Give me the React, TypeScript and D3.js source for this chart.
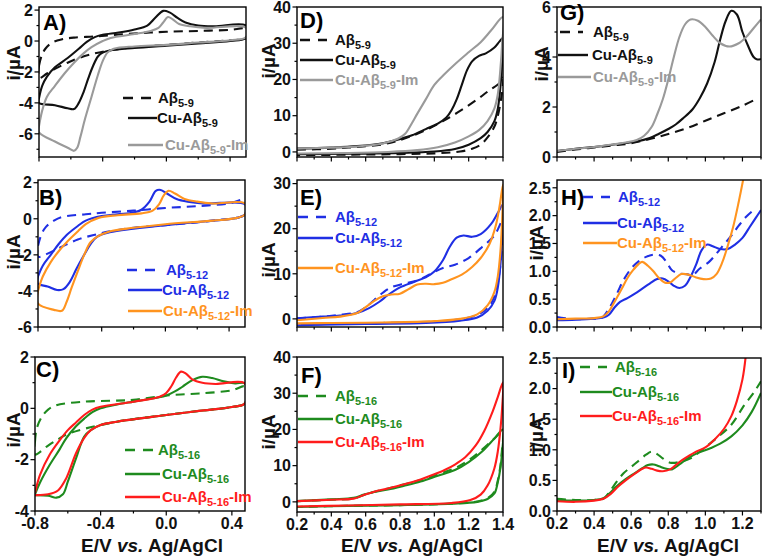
import React from "react";
import * as d3 from "d3";

type Pt = [number, number];

// ---------- Panel A : CVs, A-beta 5-9 ----------
const A_ab59: Pt[] = [[-0.8,-1.6],[-0.785,-1.0],[-0.76,-0.5],[-0.72,-0.12],[-0.66,0.1],[-0.58,0.22],[-0.45,0.3],[-0.3,0.42],[-0.15,0.52],[0.0,0.6],[0.2,0.65],[0.4,0.72],[0.5,0.78],[0.5,0.2],[0.4,0.05],[0.2,-0.1],[0.0,-0.25],[-0.2,-0.4],[-0.35,-0.6],[-0.45,-0.8],[-0.55,-1.1],[-0.62,-1.4],[-0.7,-1.8],[-0.75,-2.1],[-0.8,-2.4],[-0.8,-1.6]];
const A_cu59: Pt[] = [[-0.8,-3.7],[-0.78,-2.9],[-0.75,-2.3],[-0.7,-1.7],[-0.62,-1.1],[-0.55,-0.5],[-0.5,-0.05],[-0.45,0.25],[-0.4,0.4],[-0.3,0.55],[-0.2,0.75],[-0.12,1.0],[-0.07,1.5],[-0.02,1.95],[0.02,1.85],[0.07,1.5],[0.12,1.2],[0.2,1.0],[0.3,0.95],[0.5,1.0],[0.5,0.2],[0.4,0.0],[0.2,-0.15],[0.0,-0.3],[-0.2,-0.45],[-0.35,-0.6],[-0.4,-0.75],[-0.43,-1.0],[-0.46,-1.6],[-0.49,-2.4],[-0.52,-3.3],[-0.55,-4.0],[-0.58,-4.4],[-0.62,-4.35],[-0.7,-4.15],[-0.8,-4.0],[-0.8,-3.7]];
const A_im59: Pt[] = [[-0.8,-5.5],[-0.78,-4.5],[-0.75,-3.6],[-0.7,-2.9],[-0.64,-2.1],[-0.58,-1.4],[-0.52,-0.8],[-0.47,-0.4],[-0.4,0.0],[-0.35,0.2],[-0.2,0.45],[-0.1,0.65],[-0.05,0.85],[-0.02,1.2],[0.01,1.55],[0.04,1.4],[0.08,1.1],[0.15,0.95],[0.25,0.85],[0.5,0.85],[0.5,0.25],[0.4,0.05],[0.2,-0.1],[0.0,-0.25],[-0.2,-0.35],[-0.33,-0.5],[-0.37,-0.75],[-0.4,-1.3],[-0.43,-2.2],[-0.47,-3.6],[-0.51,-5.0],[-0.54,-6.2],[-0.56,-6.9],[-0.58,-7.1],[-0.62,-6.9],[-0.7,-6.5],[-0.8,-5.9],[-0.8,-5.5]];

// ---------- Panel B : CVs, A-beta 5-12 ----------
const B_ab512: Pt[] = [[-0.8,-1.5],[-0.78,-0.9],[-0.75,-0.45],[-0.7,-0.1],[-0.65,0.1],[-0.5,0.25],[-0.4,0.33],[-0.2,0.45],[0.0,0.6],[0.2,0.7],[0.4,0.85],[0.5,1.05],[0.5,0.25],[0.45,0.05],[0.3,-0.1],[0.2,-0.2],[0.0,-0.35],[-0.2,-0.5],[-0.35,-0.7],[-0.45,-0.9],[-0.55,-1.15],[-0.65,-1.55],[-0.72,-1.85],[-0.8,-2.1],[-0.8,-1.5]];
const B_cu512: Pt[] = [[-0.8,-3.2],[-0.77,-2.6],[-0.72,-2.0],[-0.67,-1.4],[-0.62,-0.9],[-0.55,-0.4],[-0.5,-0.1],[-0.4,0.15],[-0.3,0.25],[-0.2,0.35],[-0.15,0.5],[-0.1,0.95],[-0.06,1.55],[-0.03,1.6],[0.01,1.4],[0.07,1.1],[0.14,0.95],[0.25,0.85],[0.5,0.8],[0.5,0.25],[0.45,0.05],[0.3,-0.1],[0.0,-0.35],[-0.2,-0.55],[-0.35,-0.75],[-0.43,-1.0],[-0.47,-1.4],[-0.51,-2.0],[-0.56,-2.8],[-0.6,-3.5],[-0.64,-3.9],[-0.68,-3.95],[-0.74,-3.75],[-0.8,-3.6],[-0.8,-3.2]];
const B_im512: Pt[] = [[-0.8,-4.0],[-0.77,-3.2],[-0.72,-2.4],[-0.67,-1.8],[-0.62,-1.3],[-0.55,-0.7],[-0.5,-0.3],[-0.42,0.05],[-0.3,0.2],[-0.15,0.3],[-0.08,0.45],[-0.04,0.8],[-0.01,1.3],[0.02,1.55],[0.06,1.4],[0.12,1.1],[0.2,0.95],[0.3,0.85],[0.5,0.85],[0.5,0.25],[0.45,0.05],[0.3,-0.1],[0.0,-0.3],[-0.2,-0.5],[-0.35,-0.7],[-0.42,-0.95],[-0.47,-1.3],[-0.51,-2.0],[-0.55,-2.9],[-0.59,-3.85],[-0.62,-4.6],[-0.65,-5.1],[-0.7,-5.05],[-0.8,-4.7],[-0.8,-4.0]];

// ---------- Panel C : CVs, A-beta 5-16 ----------
const C_ab516: Pt[] = [[-0.8,-1.3],[-0.79,-0.8],[-0.76,-0.35],[-0.72,-0.05],[-0.67,0.12],[-0.5,0.26],[-0.3,0.3],[-0.2,0.33],[0.0,0.5],[0.2,0.58],[0.4,0.7],[0.48,0.85],[0.48,0.2],[0.4,0.05],[0.2,-0.1],[0.0,-0.26],[-0.3,-0.52],[-0.5,-0.8],[-0.6,-1.0],[-0.65,-1.17],[-0.72,-1.45],[-0.8,-1.8],[-0.8,-1.3]];
const C_cu516: Pt[] = [[-0.8,-3.35],[-0.77,-2.9],[-0.71,-2.2],[-0.65,-1.6],[-0.61,-1.17],[-0.55,-0.7],[-0.5,-0.4],[-0.45,-0.15],[-0.4,0.0],[-0.3,0.15],[-0.2,0.26],[-0.05,0.42],[0.0,0.5],[0.05,0.65],[0.1,0.85],[0.16,1.1],[0.22,1.23],[0.28,1.18],[0.35,1.05],[0.42,0.97],[0.48,0.97],[0.48,0.2],[0.4,0.05],[0.2,-0.1],[0.0,-0.26],[-0.3,-0.52],[-0.4,-0.65],[-0.46,-0.85],[-0.5,-1.1],[-0.55,-1.95],[-0.6,-2.86],[-0.63,-3.35],[-0.67,-3.48],[-0.72,-3.4],[-0.8,-3.38]];
const C_im516: Pt[] = [[-0.8,-3.3],[-0.77,-2.6],[-0.71,-1.8],[-0.65,-1.25],[-0.6,-0.85],[-0.55,-0.55],[-0.5,-0.26],[-0.45,-0.05],[-0.4,0.06],[-0.2,0.26],[-0.04,0.45],[0.0,0.6],[0.03,0.85],[0.06,1.2],[0.09,1.43],[0.12,1.35],[0.16,1.12],[0.22,1.0],[0.3,0.95],[0.48,0.97],[0.48,0.2],[0.4,0.05],[0.2,-0.1],[0.0,-0.26],[-0.3,-0.52],[-0.4,-0.65],[-0.46,-0.85],[-0.5,-1.15],[-0.55,-1.75],[-0.61,-2.73],[-0.66,-3.2],[-0.72,-3.35],[-0.8,-3.38]];

// ---------- Panel D : anodic CVs, A-beta 5-9 ----------
const D_ab59: Pt[] = [[0.2,0.6],[0.4,0.9],[0.55,1.4],[0.7,2.1],[0.78,3.0],[0.85,4.1],[0.95,6.0],[1.05,8.5],[1.15,11.3],[1.25,14.5],[1.32,17.0],[1.38,19.0],[1.4,20.5],[1.39,15],[1.37,10],[1.35,7],[1.31,4.0],[1.27,2.0],[1.22,0.9],[1.15,0.1],[1.0,-0.4],[0.8,-0.6],[0.5,-0.75],[0.2,-0.9]];
const D_cu59: Pt[] = [[0.2,0.9],[0.4,1.2],[0.55,1.6],[0.7,2.4],[0.78,3.3],[0.87,4.6],[0.95,6.3],[1.02,7.8],[1.07,9.5],[1.1,11.5],[1.13,14.5],[1.16,18.5],[1.19,22.5],[1.22,25],[1.26,26.5],[1.3,27.2],[1.35,28.8],[1.38,30.5],[1.4,31.5],[1.395,25],[1.385,18],[1.37,12],[1.35,8.5],[1.31,5.5],[1.27,3.8],[1.2,2.0],[1.12,0.8],[1.0,0.1],[0.8,-0.3],[0.5,-0.5],[0.2,-0.65]];
const D_im59: Pt[] = [[0.2,0.9],[0.4,1.2],[0.55,1.5],[0.7,2.3],[0.79,3.7],[0.83,5.0],[0.87,8.0],[0.9,10.5],[0.95,14.5],[1.0,18.5],[1.06,21.5],[1.12,24.2],[1.2,27.5],[1.27,30.3],[1.33,33.5],[1.4,37.2],[1.395,30],[1.385,23],[1.37,16],[1.35,12],[1.31,8.5],[1.26,6.0],[1.2,4.3],[1.12,2.6],[1.02,1.3],[0.9,0.5],[0.73,0.0],[0.5,-0.3],[0.2,-0.45]];

// ---------- Panel E : anodic CVs, A-beta 5-12 ----------
const E_ab512: Pt[] = [[0.2,0.1],[0.35,0.5],[0.45,0.9],[0.55,1.5],[0.6,2.6],[0.65,4.2],[0.7,5.8],[0.75,7.0],[0.82,7.8],[0.9,8.5],[0.98,10.0],[1.05,11.3],[1.12,12.0],[1.2,13.5],[1.28,16.0],[1.35,18.5],[1.4,22.0],[1.395,17],[1.385,12],[1.37,8],[1.35,5],[1.31,2.4],[1.25,0.9],[1.15,-0.1],[1.0,-0.6],[0.7,-0.9],[0.4,-1.1],[0.2,-1.3]];
const E_cu512: Pt[] = [[0.2,0.15],[0.35,0.5],[0.45,0.75],[0.55,1.3],[0.62,2.4],[0.68,3.8],[0.73,5.3],[0.8,7.0],[0.88,8.2],[0.95,9.2],[1.0,10.5],[1.05,13.0],[1.09,16.0],[1.13,18.0],[1.17,18.5],[1.22,18.2],[1.27,18.8],[1.33,21.0],[1.37,23.5],[1.4,25.4],[1.395,19],[1.385,12],[1.37,7],[1.35,4],[1.31,1.8],[1.25,0.3],[1.15,-0.4],[0.95,-0.9],[0.6,-1.1],[0.2,-1.4]];
const E_im512: Pt[] = [[0.2,-0.3],[0.35,0.2],[0.45,0.5],[0.55,1.3],[0.6,2.6],[0.65,4.0],[0.7,5.0],[0.75,5.4],[0.8,5.6],[0.85,6.6],[0.9,7.6],[0.95,7.8],[1.0,7.7],[1.05,8.0],[1.1,8.8],[1.16,9.8],[1.22,11.5],[1.27,13.5],[1.32,16.5],[1.36,21.0],[1.38,25],[1.4,29.8],[1.395,22],[1.385,15],[1.37,9.5],[1.35,6.0],[1.31,3.0],[1.25,1.0],[1.15,0.0],[1.0,-0.5],[0.7,-0.8],[0.4,-0.9],[0.2,-1.0]];

// ---------- Panel F : anodic CVs, A-beta 5-16 ----------
const F_ab516: Pt[] = [[0.2,0.2],[0.4,0.6],[0.53,0.9],[0.59,1.9],[0.65,2.8],[0.73,3.7],[0.82,4.8],[0.92,6.0],[1.02,7.6],[1.12,9.3],[1.2,11.5],[1.28,14.5],[1.35,17.5],[1.4,19.5],[1.395,15],[1.385,10],[1.37,6],[1.35,2.8],[1.31,1.0],[1.25,0.1],[1.1,-0.5],[0.8,-0.9],[0.5,-1.1],[0.2,-1.4]];
const F_cu516: Pt[] = [[0.2,0.2],[0.4,0.7],[0.53,1.1],[0.59,2.0],[0.65,2.7],[0.73,3.4],[0.82,4.4],[0.92,5.6],[1.02,7.2],[1.12,8.8],[1.2,11],[1.28,14],[1.35,17.5],[1.4,20],[1.395,14],[1.385,9.3],[1.37,5.5],[1.35,2.3],[1.31,0.8],[1.25,0.0],[1.1,-0.5],[0.8,-0.9],[0.5,-1.1],[0.2,-1.4]];
const F_im516: Pt[] = [[0.2,0.2],[0.4,0.6],[0.53,0.9],[0.59,1.9],[0.65,2.8],[0.73,3.7],[0.82,4.8],[0.92,6.2],[1.0,7.6],[1.06,8.8],[1.12,10.3],[1.18,12.3],[1.24,15.5],[1.29,19.5],[1.34,25],[1.37,29],[1.4,33],[1.395,26],[1.385,20],[1.37,14],[1.35,9.3],[1.31,4.5],[1.27,2.0],[1.21,0.5],[1.1,-0.3],[0.8,-0.7],[0.5,-1.0],[0.2,-1.3]];

// ---------- Panel G : DPV, A-beta 5-9 ----------
const G_ab59: Pt[] = [[0.2,0.2],[0.3,0.3],[0.4,0.38],[0.5,0.46],[0.6,0.55],[0.7,0.72],[0.8,0.92],[0.9,1.15],[1.0,1.45],[1.1,1.75],[1.2,2.05],[1.27,2.3]];
const G_cu59: Pt[] = [[0.2,0.24],[0.3,0.33],[0.4,0.4],[0.48,0.47],[0.56,0.55],[0.63,0.62],[0.7,0.76],[0.75,0.93],[0.8,1.12],[0.84,1.3],[0.88,1.55],[0.93,1.9],[0.97,2.35],[1.01,2.95],[1.05,3.8],[1.08,4.7],[1.11,5.45],[1.14,5.85],[1.17,5.7],[1.2,5.0],[1.23,4.45],[1.26,4.0],[1.28,3.9],[1.3,3.92]];
const G_im59: Pt[] = [[0.2,0.24],[0.3,0.33],[0.4,0.4],[0.5,0.5],[0.57,0.58],[0.63,0.68],[0.67,0.85],[0.71,1.2],[0.74,1.7],[0.77,2.3],[0.8,3.1],[0.83,4.0],[0.86,4.8],[0.89,5.3],[0.92,5.5],[0.96,5.45],[1.0,5.2],[1.04,4.85],[1.08,4.55],[1.13,4.42],[1.18,4.55],[1.22,4.8],[1.26,5.15],[1.3,5.5]];

// ---------- Panel H : DPV, A-beta 5-12 ----------
const H_ab512: Pt[] = [[0.2,0.18],[0.3,0.14],[0.4,0.15],[0.44,0.16],[0.48,0.33],[0.52,0.58],[0.56,0.85],[0.6,1.05],[0.64,1.18],[0.68,1.26],[0.72,1.3],[0.76,1.28],[0.79,1.17],[0.82,1.02],[0.86,0.96],[0.9,0.95],[0.93,0.93],[0.97,1.05],[1.02,1.17],[1.06,1.32],[1.1,1.48],[1.14,1.64],[1.18,1.82],[1.22,1.98],[1.26,2.1]];
const H_cu512: Pt[] = [[0.2,0.12],[0.3,0.13],[0.4,0.15],[0.45,0.17],[0.48,0.22],[0.51,0.35],[0.54,0.45],[0.58,0.52],[0.62,0.6],[0.66,0.69],[0.7,0.78],[0.74,0.86],[0.77,0.87],[0.8,0.82],[0.83,0.74],[0.86,0.7],[0.89,0.74],[0.92,0.9],[0.95,1.12],[0.98,1.38],[1.01,1.48],[1.04,1.45],[1.08,1.4],[1.12,1.4],[1.16,1.48],[1.2,1.6],[1.24,1.8],[1.27,1.95],[1.3,2.1]];
const H_im512: Pt[] = [[0.2,0.14],[0.3,0.15],[0.4,0.16],[0.45,0.19],[0.48,0.28],[0.51,0.45],[0.55,0.69],[0.58,0.88],[0.61,1.02],[0.64,1.13],[0.66,1.17],[0.69,1.1],[0.72,1.0],[0.75,0.88],[0.78,0.8],[0.81,0.8],[0.84,0.88],[0.87,0.95],[0.91,0.94],[0.95,0.89],[0.99,0.86],[1.03,0.87],[1.06,0.95],[1.09,1.15],[1.12,1.45],[1.15,1.8],[1.18,2.25],[1.21,2.75]];

// ---------- Panel I : DPV, A-beta 5-16 ----------
const I_ab516: Pt[] = [[0.2,0.2],[0.3,0.18],[0.4,0.18],[0.45,0.2],[0.48,0.3],[0.52,0.47],[0.56,0.62],[0.6,0.72],[0.64,0.82],[0.68,0.92],[0.71,0.97],[0.74,0.93],[0.77,0.86],[0.81,0.79],[0.86,0.8],[0.92,0.86],[0.99,1.02],[1.06,1.19],[1.14,1.41],[1.21,1.73],[1.26,1.93],[1.3,2.12]];
const I_cu516: Pt[] = [[0.2,0.18],[0.3,0.17],[0.4,0.18],[0.45,0.21],[0.48,0.28],[0.52,0.4],[0.57,0.52],[0.62,0.62],[0.66,0.7],[0.69,0.75],[0.72,0.76],[0.75,0.73],[0.79,0.69],[0.82,0.68],[0.86,0.76],[0.91,0.87],[0.96,0.95],[1.03,1.03],[1.08,1.1],[1.14,1.22],[1.2,1.4],[1.25,1.62],[1.3,1.93]];
const I_im516: Pt[] = [[0.2,0.16],[0.3,0.15],[0.4,0.17],[0.45,0.2],[0.49,0.28],[0.53,0.4],[0.57,0.5],[0.62,0.61],[0.66,0.69],[0.68,0.71],[0.71,0.69],[0.74,0.66],[0.77,0.65],[0.81,0.68],[0.86,0.8],[0.9,0.88],[0.95,0.97],[1.0,1.04],[1.05,1.17],[1.1,1.34],[1.14,1.55],[1.17,1.8],[1.2,2.15],[1.22,2.6]];

// ---------- labels ----------
const PEPTIDES = ["5-9", "5-12", "5-16"];
const PANEL_LABELS = ["A)", "B)", "C)", "D)", "E)", "F)", "G)", "H)", "I)"];
const Y_TITLE = "i/\u00b5A";
const X_TICKS_CV = [-0.8, -0.4, 0.0, 0.4];

const BLACK = "#111111";
const GREY = "#9a9a9a";
const BLUE = "#1f2fe4";
const ORANGE = "#ff941f";
const GREEN = "#1e8b1e";
const RED = "#ff1c1c";
const FONT = "'Liberation Sans', Arial, Helvetica, sans-serif";

interface Series { data: Pt[]; color: string; dashed?: boolean }
interface LegRow { y: number; lx0: number; lx1: number; tx: number; cu: boolean; im: boolean; color: string; dashed?: boolean }
interface PanelSpec {
  id: string; l: number; r: number; t: number; b: number;
  xd: [number, number]; yd: [number, number];
  xMajor: number; xMinor: number; yMajor: number; yMinor: number;
  xLabels?: number[]; xDec: number; yDec: number;
  series: Series[]; pep: string; legend: LegRow[];
  label: string; lx: number; ly: number; ytx: number; yty: number;
}

function tickVals(d: [number, number], step: number): number[] {
  const lo = Math.ceil(d[0] / step - 1e-6);
  const hi = Math.floor(d[1] / step + 1e-6);
  return d3.range(lo, hi + 1).map((k) => +(k * step).toFixed(6));
}
function fmt(v: number, dec: number) {
  const s = v.toFixed(dec);
  return s === "-0" || s === "-0.0" ? s.slice(1) : s;
}

function leg(ys: number[], lx0: number[], lx1: number[], tx: number[], colors: string[]): LegRow[] {
  return ys.map((y, k) => ({ y, lx0: lx0[k], lx1: lx1[k], tx: tx[k], cu: k > 0, im: k === 2, color: colors[k], dashed: k === 0 }));
}

const cvX: [number, number] = [-0.8, 0.5];
const anX: [number, number] = [0.2, 1.4];
const dpX: [number, number] = [0.2, 1.3];

const PANELS: PanelSpec[] = [
  { id: "A", l: 39, r: 246, t: 7, b: 157, xd: cvX, yd: [-7.5, 2.2], xMajor: 0.4, xMinor: 0.2, yMajor: 2, yMinor: 1, xDec: 1, yDec: 0,
    series: [{ data: A_ab59, color: BLACK, dashed: true }, { data: A_cu59, color: BLACK }, { data: A_im59, color: GREY }], pep: PEPTIDES[0],
    legend: leg([98, 118, 145], [123, 128, 128], [153, 157, 163], [158, 157, 165], [BLACK, BLACK, GREY]),
    label: PANEL_LABELS[0], lx: 43, ly: 30, ytx: 13, yty: 63 },
  { id: "B", l: 38, r: 245, t: 180, b: 327, xd: cvX, yd: [-6, 2.15], xMajor: 0.4, xMinor: 0.2, yMajor: 2, yMinor: 1, xDec: 1, yDec: 0,
    series: [{ data: B_ab512, color: BLUE, dashed: true }, { data: B_cu512, color: BLUE }, { data: B_im512, color: ORANGE }], pep: PEPTIDES[1],
    legend: leg([270, 290, 311], [127, 128, 128], [157, 162, 162], [166, 162, 163], [BLUE, BLUE, ORANGE]),
    label: PANEL_LABELS[1], lx: 39, ly: 205, ytx: 13, yty: 252 },
  { id: "C", l: 35, r: 245, t: 357, b: 511, xd: [-0.8, 0.48], yd: [-4, 2], xMajor: 0.4, xMinor: 0.2, yMajor: 2, yMinor: 1, xDec: 1, yDec: 0,
    xLabels: X_TICKS_CV,
    series: [{ data: C_ab516, color: GREEN, dashed: true }, { data: C_cu516, color: GREEN }, { data: C_im516, color: RED }], pep: PEPTIDES[2],
    legend: leg([450, 474, 497], [125, 125, 125], [153, 160, 160], [158, 162, 162], [GREEN, GREEN, RED]),
    label: PANEL_LABELS[2], lx: 36, ly: 377, ytx: 13, yty: 430 },
  { id: "D", l: 297, r: 503, t: 7, b: 157, xd: anX, yd: [-1.4, 40], xMajor: 0.2, xMinor: 0.1, yMajor: 10, yMinor: 5, xDec: 1, yDec: 0,
    series: [{ data: D_ab59, color: BLACK, dashed: true }, { data: D_cu59, color: BLACK }, { data: D_im59, color: GREY }], pep: PEPTIDES[0],
    legend: leg([40, 60, 80], [300, 300, 300], [327, 333, 333], [335, 335, 335], [BLACK, BLACK, GREY]),
    label: PANEL_LABELS[3], lx: 300, ly: 28, ytx: 268, yty: 61 },
  { id: "E", l: 297, r: 503, t: 180, b: 327, xd: anX, yd: [-1.8, 30.8], xMajor: 0.2, xMinor: 0.1, yMajor: 10, yMinor: 5, xDec: 1, yDec: 0,
    series: [{ data: E_ab512, color: BLUE, dashed: true }, { data: E_cu512, color: BLUE }, { data: E_im512, color: ORANGE }], pep: PEPTIDES[1],
    legend: leg([217, 238, 268], [298, 298, 298], [327, 333, 333], [335, 335, 335], [BLUE, BLUE, ORANGE]),
    label: PANEL_LABELS[4], lx: 300, ly: 205, ytx: 268, yty: 260 },
  { id: "F", l: 297, r: 503, t: 357, b: 512, xd: anX, yd: [-2.8, 40], xMajor: 0.2, xMinor: 0.1, yMajor: 10, yMinor: 5, xDec: 1, yDec: 0,
    xLabels: tickVals(anX, 0.2),
    series: [{ data: F_ab516, color: GREEN, dashed: true }, { data: F_cu516, color: GREEN }, { data: F_im516, color: RED }], pep: PEPTIDES[2],
    legend: leg([396, 419, 442], [298, 298, 298], [327, 333, 333], [335, 335, 335], [GREEN, GREEN, RED]),
    label: PANEL_LABELS[5], lx: 301, ly: 383, ytx: 268, yty: 432 },
  { id: "G", l: 557, r: 761, t: 7, b: 157, xd: dpX, yd: [0, 6], xMajor: 0.2, xMinor: 0.1, yMajor: 2, yMinor: 1, xDec: 1, yDec: 0,
    series: [{ data: G_ab59, color: BLACK, dashed: true }, { data: G_cu59, color: BLACK }, { data: G_im59, color: GREY }], pep: PEPTIDES[0],
    legend: leg([32, 55, 77], [560, 558, 558], [583, 588, 591], [593, 592, 593], [BLACK, BLACK, GREY]),
    label: PANEL_LABELS[6], lx: 560, ly: 20, ytx: 541, yty: 64 },
  { id: "H", l: 557, r: 761, t: 180, b: 327, xd: dpX, yd: [0, 2.64], xMajor: 0.2, xMinor: 0.1, yMajor: 0.5, yMinor: 0.25, xDec: 1, yDec: 1,
    series: [{ data: H_ab512, color: BLUE, dashed: true }, { data: H_cu512, color: BLUE }, { data: H_im512, color: ORANGE }], pep: PEPTIDES[1],
    legend: leg([197, 223, 243], [583, 583, 583], [610, 617, 617], [618, 617, 617], [BLUE, BLUE, ORANGE]),
    label: PANEL_LABELS[7], lx: 561, ly: 205, ytx: 536, yty: 243 },
  { id: "I", l: 557, r: 761, t: 358, b: 511, xd: dpX, yd: [0, 2.5], xMajor: 0.2, xMinor: 0.1, yMajor: 0.5, yMinor: 0.25, xDec: 1, yDec: 1,
    xLabels: tickVals([0.2, 1.2], 0.2),
    series: [{ data: I_ab516, color: GREEN, dashed: true }, { data: I_cu516, color: GREEN }, { data: I_im516, color: RED }], pep: PEPTIDES[2],
    legend: leg([367, 392, 416], [580, 580, 580], [607, 612, 612], [615, 612, 612], [GREEN, GREEN, RED]),
    label: PANEL_LABELS[8], lx: 562, ly: 378, ytx: 536, yty: 435 },
];

const X_TITLES = [152, 412, 668];

function Panel({ p }: { p: PanelSpec }) {
  const x = d3.scaleLinear().domain(p.xd).range([p.l, p.r]);
  const y = d3.scaleLinear().domain(p.yd).range([p.b, p.t]);
  const line = d3.line<Pt>().x((d) => x(d[0])).y((d) => y(d[1])).curve(d3.curveCatmullRom.alpha(0.5));
  const yMaj = tickVals(p.yd, p.yMajor);
  const yMin = tickVals(p.yd, p.yMinor);
  const xMaj = tickVals(p.xd, p.xMajor);
  const xMin = tickVals(p.xd, p.xMinor);
  const clip = "clip" + p.id;
  return (
    <g>
      <defs>
        <clipPath id={clip}>
          <rect x={p.l} y={p.t} width={p.r - p.l} height={p.b - p.t} />
        </clipPath>
      </defs>
      <g clipPath={`url(#${clip})`}>
        {p.series.map((s, k) => (
          <path key={k} d={line(s.data) || ""} fill="none" stroke={s.color} strokeWidth={2.1}
            strokeDasharray={s.dashed ? "9,6" : undefined} strokeLinejoin="round" />
        ))}
      </g>
      <rect x={p.l} y={p.t} width={p.r - p.l} height={p.b - p.t} fill="none" stroke="#000" strokeWidth={1.4} />
      {yMin.map((v) => (
        <line key={"ym" + v} x1={p.l} x2={p.l - (yMaj.includes(v) ? 4.5 : 2.5)} y1={y(v)} y2={y(v)} stroke="#000" strokeWidth={1.2} />
      ))}
      {xMin.map((v) => (
        <line key={"xm" + v} y1={p.b} y2={p.b + (xMaj.includes(v) ? 4.5 : 2.5)} x1={x(v)} x2={x(v)} stroke="#000" strokeWidth={1.2} />
      ))}
      {yMaj.map((v) => (
        <text key={"yl" + v} x={p.l - 6} y={y(v)} dy="0.36em" textAnchor="end" fontSize={16} fontWeight="bold" fontFamily={FONT} fill="#111">
          {fmt(v, p.yDec)}
        </text>
      ))}
      {p.xLabels && p.xLabels.map((v) => (
        <text key={"xl" + v} x={x(v)} y={p.b + 18} textAnchor="middle" fontSize={16} fontWeight="bold" fontFamily={FONT} fill="#111">
          {fmt(v, p.xDec)}
        </text>
      ))}
      <text transform={`translate(${p.ytx},${p.yty}) rotate(-90)`} dy="0.36em" textAnchor="middle" fontSize={19} fontWeight="bold" fontFamily={FONT} fill="#111">
        {Y_TITLE}
      </text>
      <text x={p.lx} y={p.ly} fontSize={22} fontWeight="bold" fontFamily={FONT} fill="#000">{p.label}</text>
      {p.legend.map((r, k) => (
        <g key={"lg" + k}>
          <line x1={r.lx0} x2={r.lx1} y1={r.y} y2={r.y} stroke={r.color} strokeWidth={2.4} strokeDasharray={r.dashed ? "10,8" : undefined} />
          <text x={r.tx} y={r.y} dy="0.36em" fontSize={15} fontWeight="bold" fontFamily={FONT} fill={r.color}>
            {(r.cu ? "Cu-" : "") + "A\u03b2"}
            <tspan fontSize={11} dy={4}>{p.pep}</tspan>
            {r.im ? <tspan dy={-4}>-Im</tspan> : null}
          </text>
        </g>
      ))}
    </g>
  );
}

export default function App() {
  return (
    <svg width={764} height={558} viewBox="0 0 764 558" style={{ position: "fixed", left: 0, top: 0, background: "#fff" }}>
      <rect x={0} y={0} width={764} height={558} fill="#fff" />
      {PANELS.map((p) => <Panel key={p.id} p={p} />)}
      {X_TITLES.map((cx, k) => (
        <text key={k} x={cx} y={552} textAnchor="middle" fontSize={19} fontWeight="bold" fontFamily={FONT} fill="#111">
          E/V <tspan fontStyle="italic">vs.</tspan> Ag/AgCl
        </text>
      ))}
    </svg>
  );
}
